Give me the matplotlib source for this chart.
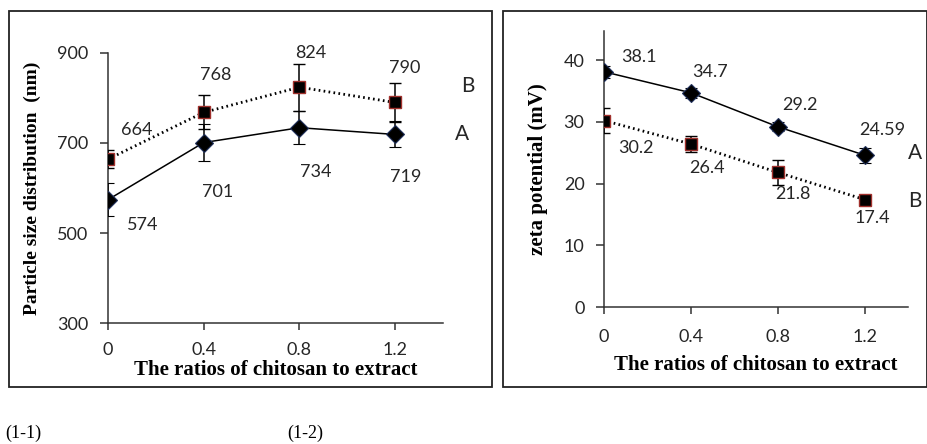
import numpy as np
import matplotlib.pyplot as plt
from matplotlib.patches import Rectangle

ratios = [0, 0.4, 0.8, 1.2]

size_a = [574, 701, 734, 719]
size_a_err = [36, 41, 37, 29]
size_b = [664, 768, 824, 790]
size_b_err = [20, 38, 52, 43]

zeta_a = [38.1, 34.7, 29.2, 24.59]
zeta_a_err = [1.0, 0.8, 0.7, 1.2]
zeta_b = [30.2, 26.4, 21.8, 17.4]
zeta_b_err = [2.0, 1.3, 2.0, 0.4]
zeta_a_labels = ["38.1", "34.7", "29.2", "24.59"]
zeta_b_labels = ["30.2", "26.4", "21.8", "17.4"]

SANS = ["Lato", "DejaVu Sans"]
SERIF = "Liberation Serif"
TXT = "#262626"
FS = 13


def px(dx, dy):
    # pixel offsets -> points (dpi 100), dy positive = up
    return (dx * 0.72, dy * 0.72)


def draw_series(ax, y, err, style):
    if style == "A":
        ax.errorbar(ratios, y, yerr=err, color="black", lw=1.1, ls="-",
                    marker="D", ms=9.5, mfc="black", mec="#1f2f5a", mew=0.8,
                    ecolor="black", elinewidth=1.1, capsize=4.3, capthick=1.1,
                    zorder=3)
    else:
        ax.errorbar(ratios, y, yerr=err, color="black", lw=2, ls=(0, (0.6, 1.2)),
                    marker="s", ms=8.5, mfc="black", mec="#a0302c", mew=1.0,
                    ecolor="black", elinewidth=1.1, capsize=4.3, capthick=1.1,
                    zorder=3)


def style_axes(ax, xpad):
    for s in ["top", "right"]:
        ax.spines[s].set_visible(False)
    for s in ["left", "bottom"]:
        ax.spines[s].set_color("#333333")
        ax.spines[s].set_linewidth(1.1)
    ax.tick_params(axis="y", direction="out", length=6, width=1.1, color="#333333",
                   pad=8, labelsize=FS, labelcolor=TXT)
    ax.tick_params(axis="x", direction="out", length=5, width=1.1, color="#333333",
                   pad=xpad, labelsize=FS, labelcolor=TXT)
    for lab in ax.get_xticklabels() + ax.get_yticklabels():
        lab.set_family(SANS)


def label(ax, x, y, text, off):
    ax.annotate(text, (x, y), xytext=px(*off), textcoords="offset points",
                ha="center", va="center", fontsize=FS, color=TXT, family=SANS)


def tag(ax, x, y, text, off):
    ax.annotate(text, (x, y), xytext=px(*off), textcoords="offset points",
                ha="center", va="center", fontsize=15, color=TXT, family=SANS,
                annotation_clip=False)


fig = plt.figure(figsize=(9.28, 4.44), dpi=100)

# panel frames
fig.add_artist(Rectangle((9 / 928, 1 - 387 / 444), 483 / 928, 376 / 444,
                         transform=fig.transFigure, fill=False, ec="#222222", lw=1.3))
fig.add_artist(Rectangle((503 / 928, 1 - 387 / 444), 424 / 928, 376 / 444,
                         transform=fig.transFigure, fill=False, ec="#222222", lw=1.3))

# (1-1) particle size
ax1 = fig.add_axes([108 / 928, 1 - 323 / 444, 335 / 928, 270 / 444])
draw_series(ax1, size_a, size_a_err, "A")
draw_series(ax1, size_b, size_b_err, "B")
ax1.set_xlim(0, 1.4)
ax1.set_ylim(300, 900)
ax1.set_xticks(ratios)
ax1.set_xticklabels(["0", "0.4", "0.8", "1.2"])
ax1.set_yticks([300, 500, 700, 900])
style_axes(ax1, 9)
ax1.set_xlabel("The ratios of chitosan to extract", family=SERIF, fontweight="bold",
               fontsize=15, labelpad=1, color="black")
ax1.set_ylabel("Particle size distribution  (nm)", family=SERIF, fontweight="bold",
               fontsize=14, labelpad=12, color="black")

a_off1 = [(35, -25), (14, -49), (16, -44), (11, -43)]
b_off1 = [(29, 29), (12, 37), (11, 34), (10, 34)]
for x, y, o in zip(ratios, size_a, a_off1):
    label(ax1, x, y, str(y), o)
for x, y, o in zip(ratios, size_b, b_off1):
    label(ax1, x, y, str(y), o)
tag(ax1, ratios[-1], size_b[-1], "B", (73, 16))
tag(ax1, ratios[-1], size_a[-1], "A", (67, 0))

# (1-2) zeta potential
ax2 = fig.add_axes([604 / 928, 1 - 307 / 444, 304 / 928, 276 / 444])
draw_series(ax2, zeta_a, zeta_a_err, "A")
draw_series(ax2, zeta_b, zeta_b_err, "B")
ax2.set_xlim(0, 1.4)
ax2.set_ylim(0, 44.7)
ax2.set_xticks(ratios)
ax2.set_xticklabels(["0", "0.4", "0.8", "1.2"])
ax2.set_yticks([0, 10, 20, 30, 40])
style_axes(ax2, 11)
ax2.set_xlabel("The ratios of chitosan to extract", family=SERIF, fontweight="bold",
               fontsize=15, labelpad=7, color="black")
ax2.set_ylabel("zeta potential (mV)", family=SERIF, fontweight="bold",
               fontsize=15, labelpad=11, color="black")

a_off2 = [(35, 15), (19, 21), (22, 22), (18, 25)]
b_off2 = [(32, -27), (16, -24), (15, -22), (8, -18)]
for x, y, t, o in zip(ratios, zeta_a, zeta_a_labels, a_off2):
    label(ax2, x, y, t, o)
for x, y, t, o in zip(ratios, zeta_b, zeta_b_labels, b_off2):
    label(ax2, x, y, t, o)
tag(ax2, ratios[-1], zeta_a[-1], "A", (50, 2))
tag(ax2, ratios[-1], zeta_b[-1], "B", (50, -1))

fig.text(5 / 928, 1 - 433 / 444, "(1-1)", family=SERIF, fontsize=13, ha="left", va="center")
fig.text(287 / 928, 1 - 433 / 444, "(1-2)", family=SERIF, fontsize=13, ha="left", va="center")

fig.savefig("out.png", dpi=100, facecolor="white")
